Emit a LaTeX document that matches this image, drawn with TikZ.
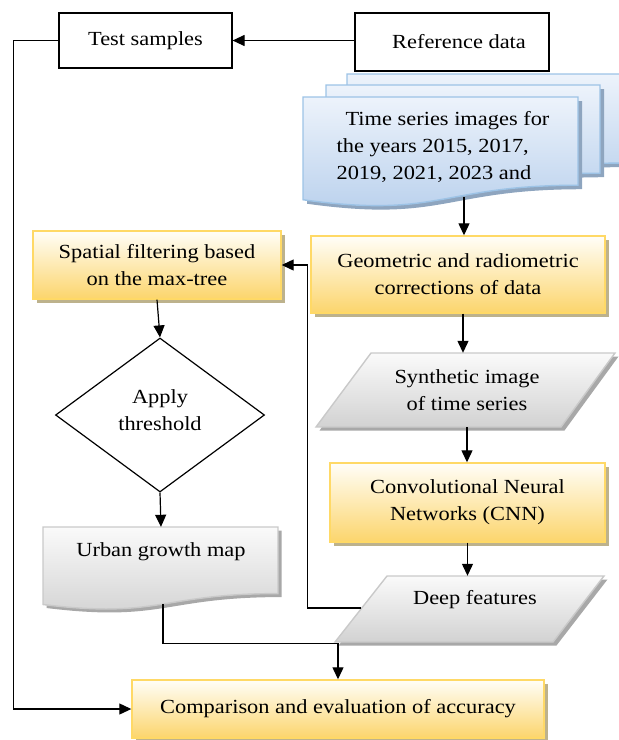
\documentclass[tikz,border=0pt]{standalone}
\usepackage{fontspec}
\setmainfont{Liberation Serif}[FakeStretch=1.12]
\usetikzlibrary{shapes.geometric,shadows,calc,arrows.meta}

\definecolor{ybord}{HTML}{FFD966}
\definecolor{ygold}{HTML}{FCD56C}
\definecolor{ytop}{HTML}{FFFEF8}
\definecolor{yshad}{HTML}{BDB28C}
\definecolor{bbord}{HTML}{9DC3E6}
\definecolor{btop}{HTML}{EDF3FB}
\definecolor{bbot}{HTML}{B7CFEC}
\definecolor{bshad}{HTML}{8EA5BF}
\definecolor{gbord}{HTML}{C9C9C9}
\definecolor{gtop}{HTML}{FAFAFA}
\definecolor{gbot}{HTML}{D2D2D2}
\definecolor{gshad}{HTML}{A8A8A8}

% document outline: left, top, right, height
\newcommand\docpath[4]{(#1,#2) -- (#3,#2) -- (#3,{#2+0.802*#4})
  .. controls ({(#1+#3)/2},{#2+0.802*#4}) and ({(#1+#3)/2},{#2+1.1075*#4}) .. (#1,{#2+0.934*#4}) -- cycle}

\begin{document}
\begin{tikzpicture}[x=1pt,y=-1pt,
  font=\fontsize{20}{27}\selectfont,
  arr/.style={draw=black, line width=1.2pt, -{Triangle[length=12pt,width=11pt]}},
  plainbox/.style={draw=black, line width=1.2pt, fill=white, inner sep=0pt, align=center},
  goldbox/.style={draw=ybord, line width=1.4pt, top color=ytop, bottom color=ygold,
    inner sep=0pt, align=center,
    drop shadow={shadow xshift=3.5pt, shadow yshift=-3.5pt, fill=yshad, opacity=1}},
  blueshape/.style={draw=bbord, line width=1.4pt, top color=btop, bottom color=bbot},
  blueshadow/.style={fill=bshad},
  grayshape/.style={draw=gbord, line width=1.4pt, top color=gtop, bottom color=gbot},
  grayshadow/.style={fill=gshad},
  txt/.style={inner sep=0pt, align=center},
]
\useasboundingbox (0,0) rectangle (619,740);

% top row
\node[plainbox, minimum width=173pt, minimum height=55pt] (test) at (145.5,40.5) {Test samples};
\node[plainbox, minimum width=194pt, minimum height=58pt] (ref) at (452,42) {\hspace*{14pt}Reference data};

% stack of image documents
\fill[blueshadow] \docpath{351}{78}{629}{111};
\path[blueshape] \docpath{347}{74}{625}{111};
\fill[blueshadow] \docpath{330}{89}{604}{110};
\path[blueshape] \docpath{326}{85}{600}{110};
\fill[blueshadow] \docpath{307}{101}{582}{110};
\path[blueshape] \docpath{303}{97}{578}{110};
\node[txt, align=left, minimum height=96pt, anchor=north] (ts) at (443,99)
  {\hspace*{0.45em}Time series images for\\the years 2015, 2017,\\2019, 2021, 2023 and};
\coordinate (tsout) at (464,197);

% processing boxes
\node[goldbox, minimum width=294pt, minimum height=77pt] (geo) at (458,274.5)
  {Geometric and radiometric\\corrections of data};
\node[goldbox, minimum width=248pt, minimum height=68pt] (spatial) at (157,265)
  {Spatial filtering based\\on the max-tree};
\node[goldbox, minimum width=412pt, minimum height=58pt] (comp) at (338,709)
  {Comparison and evaluation of accuracy};
\node[goldbox, minimum width=275pt, minimum height=79pt] (cnn) at (467.5,502.5)
  {Convolutional Neural\\Networks (CNN)};

% synthetic image (parallelogram)
\fill[grayshadow] (374.5,356.5) -- (618.5,356.5) -- (564.5,430.5) -- (319.5,430.5) -- cycle;
\path[grayshape] (371,353) -- (615,353) -- (561,427) -- (316,427) -- cycle;
\node[txt, minimum height=74pt] (synth) at (467,390) {Synthetic image\\of time series};

% deep features (parallelogram)
\fill[grayshadow] (390.5,579.5) -- (607.5,579.5) -- (556.5,645.5) -- (338.5,645.5) -- cycle;
\path[grayshape] (387,576) -- (604,576) -- (553,642) -- (335,642) -- cycle;
\node[txt, minimum height=48pt] (deep) at (475,600) {Deep features};
\coordinate (deepout) at (361,608);

% threshold decision
\node[diamond, draw=black, line width=1.2pt, fill=white, inner sep=0pt,
  minimum width=209pt, minimum height=154pt] (thr) at (160,415) {};
\node[txt] (thrtext) at (160,410) {Apply\\threshold};

% urban growth map (document)
\fill[grayshadow] (46.5,530.5) -- (281.5,530.5) -- (281.5,{530.5+0.802*83})
  .. controls (164,{530.5+0.802*83}) and (164,{530.5+1.1075*83}) .. (46.5,{530.5+0.934*83}) -- cycle;
\path[grayshape] \docpath{43}{527}{278}{83};
\node[txt, minimum height=50pt] (urban) at (161,552) {Urban growth map};
\coordinate (urbanout) at (163,604);

% connectors
\draw[arr] (ref.west |- test.east) -- (test.east);
\draw[arr] (test.west) -- ++(-45,0) |- (comp.west);
\draw[arr] (tsout) -- (tsout |- geo.north);
\draw[arr] ([xshift=5pt]geo.south) -- ([xshift=5pt]geo.south |- synth.north);
\draw[arr] (synth.south) -- (synth.south |- cnn.north);
\draw[arr] (cnn.south) -- (cnn.south |- deep.north);
\draw[arr] (deepout) -| ($(spatial.east)+(26,0)$) -- (spatial.east);
\draw[arr] (spatial.south) -- (thr.north);
\draw[arr] (thr.south) -- (urban.north);
\draw[arr] (urbanout) |- ($(comp.north)+(0,-36)$) -- (comp.north);
\end{tikzpicture}
\end{document}
